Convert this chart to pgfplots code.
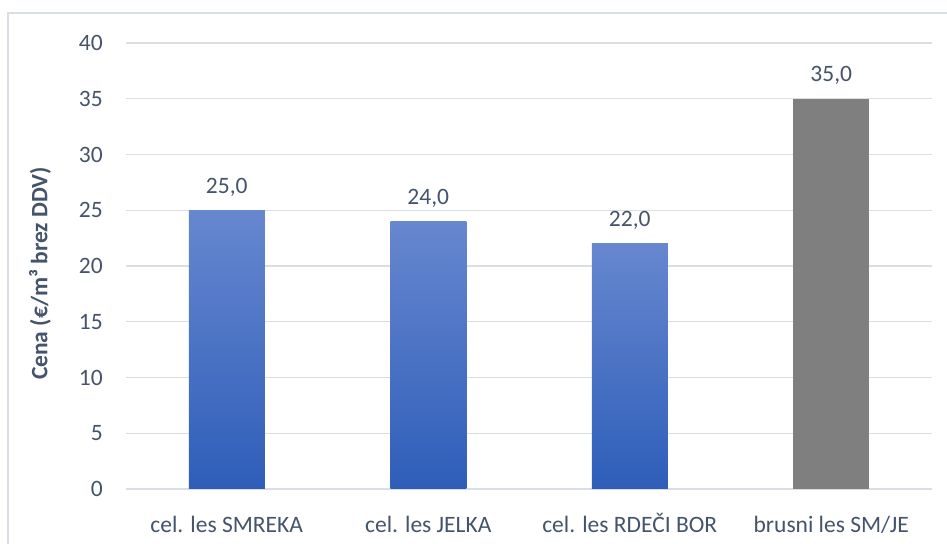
\documentclass[border=0pt]{standalone}
\usepackage{pgfplots}
\pgfplotsset{compat=1.18}
\usepackage{fontspec}
\setmainfont{Carlito}
\definecolor{txt}{HTML}{44546A}
\definecolor{gridc}{HTML}{D9DEE4}
\definecolor{btop}{HTML}{6787CF}
\definecolor{bbot}{HTML}{2E5EB9}
\definecolor{gbar}{HTML}{7F7F7F}
\begin{document}
\begin{tikzpicture}
\path[use as bounding box] (0bp,0bp) rectangle (947bp,544bp);
\draw[gridc, line width=1.2bp] (8bp,-1bp) -- (8bp,531bp) -- (948bp,531bp);
\begin{axis}[
 at={(126bp,55bp)}, anchor=south west,
 scale only axis, width=806bp, height=446bp,
 xmin=-0.5, xmax=3.5, ymin=0, ymax=40,
 ytick={0,5,...,40},
 xtick={0,1,2,3},
 xticklabels={cel. les SMREKA, cel. les JELKA, cel. les RDEČI BOR, brusni les SM/JE},
 axis line style={draw=none},
 major tick style={draw=none},
 ymajorgrids, grid style={gridc, line width=1.2bp},
 font=\fontsize{23.5bp}{28bp}\selectfont,
 tick label style={text=txt},
 /pgf/number format/assume math mode=true,
 yticklabel style={anchor=east, inner sep=0pt, xshift=-23bp},
 xticklabel style={anchor=base, inner sep=0pt, yshift=-39bp},
 ybar, bar width=76bp,
 clip=false,
]
\addplot[bar shift=0pt, draw=none, top color=btop, bottom color=bbot] coordinates {(0,25)};
\addplot[bar shift=0pt, draw=none, top color=btop, bottom color=bbot] coordinates {(1,24)};
\addplot[bar shift=0pt, draw=none, top color=btop, bottom color=bbot] coordinates {(2,22)};
\addplot[bar shift=0pt, draw=none, fill=gbar] coordinates {(3,35)};
\addplot[bar shift=0pt, draw=none, fill=none,
  nodes near coords={\pgfmathprintnumber[fixed,fixed zerofill,precision=1,use comma,assume math mode=true]{\pgfplotspointmeta}},
  every node near coord/.append style={text=txt, anchor=base, inner sep=0pt, yshift=17bp, font=\fontsize{23.5bp}{28bp}\selectfont}]
  coordinates {(0,25) (1,24) (2,22) (3,35)};
\end{axis}
\node[text=txt, rotate=90, font=\fontsize{23.5bp}{28bp}\selectfont\bfseries] at (40bp,270.5bp) {Cena (€/m³ brez DDV)};
\end{tikzpicture}
\end{document}
